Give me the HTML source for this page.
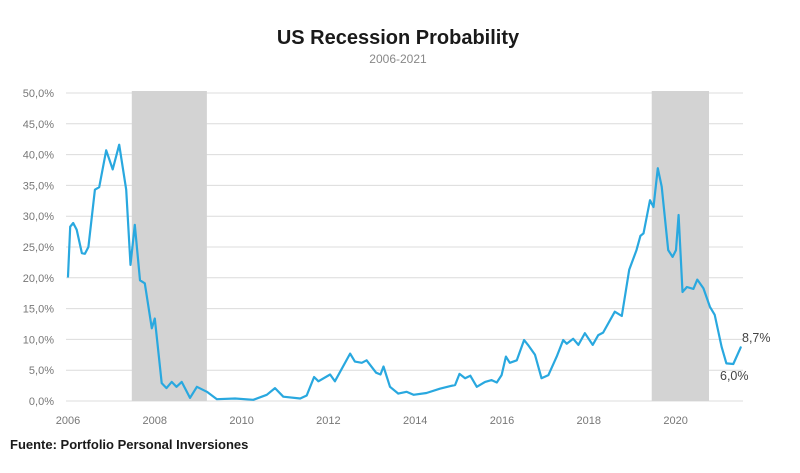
<!DOCTYPE html>
<html><head><meta charset="utf-8">
<style>
html,body{margin:0;padding:0;background:#fff;}
svg{display:block;font-family:"Liberation Sans",sans-serif;}
</style></head>
<body>
<svg id="chart" width="800" height="473" viewBox="0 0 800 473">
<text x="398" y="44" text-anchor="middle" font-size="20" font-weight="bold" fill="#1a1a1a">US Recession Probability</text>
<text x="398" y="63" text-anchor="middle" font-size="12" fill="#888">2006-2021</text>
<g id="grid"></g>
<g id="shade"></g>
<g id="xaxis"></g>
<g id="yaxis"></g>
<path id="line" fill="none" stroke="#29a8df" stroke-width="2.2" stroke-linejoin="round" stroke-linecap="round"></path>
<text x="742" y="342" font-size="12.5" fill="#444">8,7%</text>
<text x="720" y="380" font-size="12.5" fill="#444">6,0%</text>
<text x="10" y="449" font-size="13" font-weight="bold" fill="#1a1a1a">Fuente: Portfolio Personal Inversiones</text>
</svg>
<script>
const yTicks = [0,5,10,15,20,25,30,35,40,45,50];
const xTicks = [2006,2008,2010,2012,2014,2016,2018,2020];
const recessions = [[2007.47,2009.2],[2019.45,2020.77]];
const dates = [2006,2006.05,2006.12,2006.2,2006.32,2006.39,2006.47,2006.62,2006.72,2006.88,2007.03,2007.18,2007.34,2007.44,2007.54,2007.66,2007.77,2007.93,2008.0,2008.16,2008.27,2008.39,2008.5,2008.62,2008.81,2008.97,2009.2,2009.43,2009.85,2010.27,2010.58,2010.77,2010.96,2011.35,2011.5,2011.67,2011.77,2012.04,2012.15,2012.5,2012.61,2012.77,2012.88,2013.1,2013.2,2013.27,2013.42,2013.61,2013.8,2013.96,2014.26,2014.57,2014.8,2014.92,2015.02,2015.15,2015.27,2015.42,2015.61,2015.76,2015.88,2015.99,2016.09,2016.18,2016.34,2016.51,2016.6,2016.76,2016.91,2017.07,2017.26,2017.41,2017.49,2017.64,2017.76,2017.91,2018.09,2018.22,2018.33,2018.6,2018.76,2018.93,2019.1,2019.19,2019.26,2019.41,2019.49,2019.59,2019.68,2019.83,2019.93,2020.01,2020.07,2020.16,2020.26,2020.41,2020.5,2020.64,2020.79,2020.9,2021.06,2021.17,2021.33,2021.5];
const values = [20.2,28.3,28.9,27.8,24,23.9,25,34.3,34.7,40.7,37.6,41.6,34.3,22.1,28.6,19.6,19.1,11.8,13.4,2.9,2.1,3.1,2.3,3.1,0.5,2.3,1.5,0.3,0.4,0.2,1.0,2.1,0.7,0.4,0.9,3.9,3.2,4.3,3.2,7.7,6.4,6.2,6.6,4.6,4.3,5.6,2.3,1.2,1.5,1.0,1.3,2.0,2.4,2.6,4.4,3.7,4.1,2.3,3.1,3.4,3.0,4.2,7.2,6.2,6.6,9.9,9.1,7.5,3.7,4.2,7.2,9.9,9.3,10.1,9.1,11.0,9.1,10.7,11.1,14.5,13.8,21.3,24.5,26.8,27.2,32.6,31.5,37.8,34.8,24.5,23.4,24.5,30.2,17.7,18.5,18.2,19.7,18.3,15.3,14.0,8.8,6.1,6.0,8.7];

const X0=66, X1=743, Y0=401, Y50=93;
function xs(yr){return 68+(yr-2006)*43.4;}
function ys(v){return Y0-(v/50)*(Y0-Y50);}
const NS="http://www.w3.org/2000/svg";
const grid=document.getElementById('grid'), yaxis=document.getElementById('yaxis');
yTicks.forEach(t=>{
  const l=document.createElementNS(NS,'line');
  l.setAttribute('x1',X0);l.setAttribute('x2',X1);
  l.setAttribute('y1',ys(t));l.setAttribute('y2',ys(t));
  l.setAttribute('stroke','#dcdcdc');l.setAttribute('stroke-width','1');
  
  
  grid.appendChild(l);
  const tx=document.createElementNS(NS,'text');
  tx.setAttribute('x',54);tx.setAttribute('y',ys(t)+4);
  tx.setAttribute('text-anchor','end');tx.setAttribute('font-size','11');tx.setAttribute('fill','#777');
  tx.textContent=t.toFixed(1).replace('.',',')+'%';
  
  
  yaxis.appendChild(tx);
});
const shade=document.getElementById('shade');
recessions.forEach(r=>{
  const rc=document.createElementNS(NS,'rect');
  rc.setAttribute('x',xs(r[0]));rc.setAttribute('width',xs(r[1])-xs(r[0]));
  rc.setAttribute('y',91);rc.setAttribute('height',Y0-91);
  rc.setAttribute('fill','#d3d3d3');
  
  
  shade.appendChild(rc);
});
const xaxis=document.getElementById('xaxis');
xTicks.forEach(t=>{
  const tx=document.createElementNS(NS,'text');
  tx.setAttribute('x',xs(t));tx.setAttribute('y',424);
  tx.setAttribute('text-anchor','middle');tx.setAttribute('font-size','11');tx.setAttribute('fill','#777');
  tx.textContent=t;
  
  
  xaxis.appendChild(tx);
});
let d='';
dates.forEach((t,i)=>{d+=(i?'L':'M')+xs(t).toFixed(1)+','+ys(values[i]).toFixed(1);});
document.getElementById('line').setAttribute('d',d);
</script>
</body></html>
